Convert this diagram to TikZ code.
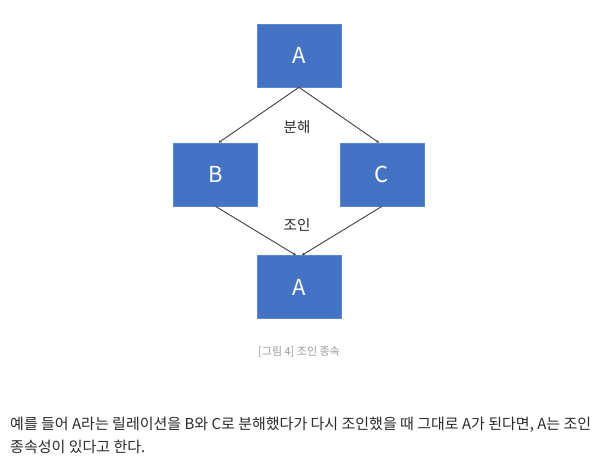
\documentclass[tikz,border=0pt]{standalone}
\usepackage{fontspec}
\setmainfont{Noto Sans CJK KR}
\usetikzlibrary{arrows.meta}
\definecolor{boxblue}{HTML}{4472C4}
\definecolor{boxedge}{HTML}{5B86D0}
\definecolor{linegray}{HTML}{404040}
\definecolor{captiongray}{HTML}{9A9A9A}
\definecolor{bodytext}{HTML}{2A2A2A}
\tikzset{
  relbox/.style={draw=boxedge, line width=0.6pt, fill=boxblue, minimum width=84pt, minimum height=63pt, inner sep=0pt, text=white, font=\fontsize{22}{24}\selectfont},
  conn/.style={draw=linegray, line width=0.9pt, -{Stealth[length=3pt,width=3pt]}},
  lbl/.style={font=\fontsize{14.5}{16}\selectfont, text=bodytext},
  bodyline/.style={anchor=west, font=\fontsize{15}{22}\selectfont, text=bodytext, inner sep=0pt},
}
\begin{document}
\begin{tikzpicture}[x=1pt,y=-1pt]
\useasboundingbox (0,0) rectangle (602,471);
\fill[white] (0,0) rectangle (602,471);
\node[relbox] (a1) at (299,55.5) {A};
\node[relbox] (b) at (215.5,174.5) {B};
\node[relbox] (c) at (382,174.5) {C};
\node[relbox] (a2) at (299,287) {A};
\draw[conn] (a1.south) -- ([xshift=3pt]b.north);
\draw[conn] (a1.south) -- ([xshift=-3pt]c.north);
\draw[conn] (b.south) -- ([xshift=-3pt]a2.north);
\draw[conn] (c.south) -- ([xshift=3pt]a2.north);
\node[lbl] (l1) at (297,127) {분해};
\node[lbl] (l2) at (297,225) {조인};
\node[font=\fontsize{11}{13}\selectfont, text=captiongray] (cap) at (299,352) {[그림 4] 조인 종속};
\node[bodyline] (t1) at (10,425) {예를 들어 A라는 릴레이션을 B와 C로 분해했다가 다시 조인했을 때 그대로 A가 된다면, A는 조인};
\node[bodyline] (t2) at (10,447) {종속성이 있다고 한다.};
\end{tikzpicture}
\end{document}
